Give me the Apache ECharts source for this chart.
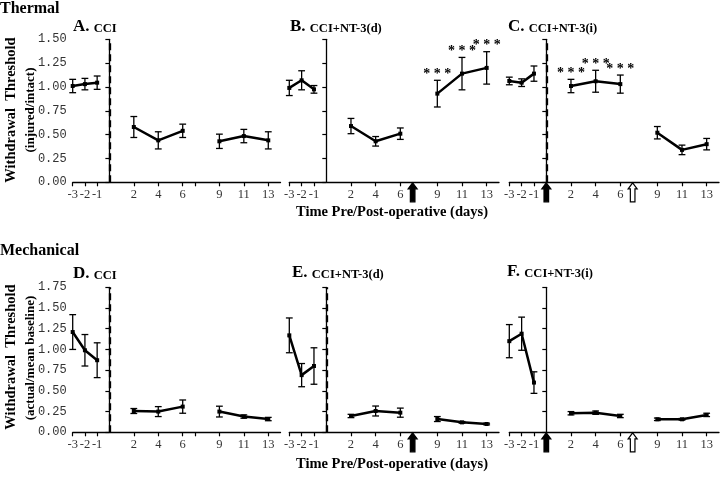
<!DOCTYPE html>
<html>
<head>
<meta charset="utf-8">
<script src="https://cdn.jsdelivr.net/npm/echarts@6/dist/echarts.min.js"></script>
<style>html,body{margin:0;padding:0;background:#fff}#c{width:720px;height:477px}</style>
</head>
<body>
<div id="c"></div>
<script>
// ---- data ----
const days = [-3, -2, -1, 2, 4, 6, 9, 11, 13];
const tickDays = [-3, -2, -1, 2, 4, 6, 7, 9, 11, 13];
const labelDays = [-3, -2, -1, 2, 4, 6, 9, 11, 13];
const segments = [[0, 1, 2], [3, 4, 5], [6, 7, 8]];

const thermA    = [1.01, 1.03, 1.045, 0.58, 0.44, 0.54, 0.43, 0.485, 0.44];
const thermAErr = [0.07, 0.06, 0.07, 0.11, 0.09, 0.07, 0.075, 0.07, 0.09];
const thermB    = [0.99, 1.07, 0.975, 0.59, 0.43, 0.51, 0.93, 1.14, 1.20];
const thermBErr = [0.08, 0.10, 0.04, 0.08, 0.05, 0.06, 0.14, 0.17, 0.17];
const thermC    = [1.063, 1.045, 1.14, 1.01, 1.06, 1.03, 0.52, 0.34, 0.40];
const thermCErr = [0.04, 0.04, 0.08, 0.07, 0.115, 0.095, 0.065, 0.05, 0.06];

const mechD    = [1.21, 0.99, 0.87, 0.257, 0.25, 0.31, 0.25, 0.19, 0.16];
const mechDErr = [0.21, 0.19, 0.21, 0.03, 0.06, 0.08, 0.065, 0.02, 0.02];
const mechE    = [1.17, 0.69, 0.80, 0.197, 0.257, 0.237, 0.16, 0.12, 0.10];
const mechEErr = [0.21, 0.14, 0.22, 0.02, 0.06, 0.055, 0.03, 0.01, 0.01];
const mechF    = [1.10, 1.19, 0.60, 0.23, 0.237, 0.197, 0.157, 0.157, 0.21];
const mechFErr = [0.20, 0.20, 0.13, 0.02, 0.02, 0.02, 0.015, 0.01, 0.02];

const starsB = [9, 11, 13];
const starsC = [2, 4, 6];
const arrowsB = [[7, 1]];
const arrowsC = [[0, 1], [7, 0]];
const arrowsE = [[7, 1]];
const arrowsF = [[0, 1], [7, 0]];

const titles = [
  ['A.', 'CCI'], ['B.', 'CCI+NT-3(d)'], ['C.', 'CCI+NT-3(i)'],
  ['D.', 'CCI'], ['E.', 'CCI+NT-3(d)'], ['F.', 'CCI+NT-3(i)']
];

// ---- layout ----
const serif = 'Liberation Serif';
const colLeft = [72.7, 289.3, 509.3];
const colWidth = [207.8, 209.7, 209.7];
const rowTop = [39.3, 287.3];
const rowHeight = [143, 145];

const panels = [
  {vals: thermA, err: thermAErr, ymax: 1.5, heavy: true,  stars: [], arrows: []},
  {vals: thermB, err: thermBErr, ymax: 1.5, heavy: false, stars: starsB, arrows: arrowsB},
  {vals: thermC, err: thermCErr, ymax: 1.5, heavy: true,  stars: starsC, arrows: arrowsC},
  {vals: mechD, err: mechDErr, ymax: 1.75, heavy: true,  stars: [], arrows: []},
  {vals: mechE, err: mechEErr, ymax: 1.75, heavy: true,  stars: [], arrows: arrowsE},
  {vals: mechF, err: mechFErr, ymax: 1.75, heavy: false, stars: [], arrows: arrowsF}
];

const grids = [], xAxes = [], yAxes = [], series = [];
panels.forEach((p, i) => {
  const col = i % 3, row = Math.floor(i / 3);
  grids.push({left: colLeft[col], top: rowTop[row], width: colWidth[col], height: rowHeight[row]});
  xAxes.push({
    type: 'value', gridIndex: i, min: -3, max: 14,
    splitLine: {show: false},
    axisLine: {onZero: false, lineStyle: {color: '#000', width: 1.3}},
    axisTick: {customValues: tickDays, length: 4, lineStyle: {color: '#000', width: 1.2}},
    axisLabel: {customValues: labelDays, showMinLabel: true, hideOverlap: false,
      color: '#333', fontFamily: serif, fontSize: 12.5, margin: 6}
  });
  yAxes.push({
    type: 'value', gridIndex: i, min: 0, max: p.ymax, interval: 0.25,
    splitLine: {show: false},
    axisLine: {show: true, lineStyle: {color: '#000', width: 1.3}},
    axisTick: {show: true, length: 4, lineStyle: {color: '#000', width: 1.2}},
    axisLabel: {show: col === 0, color: '#333', fontFamily: 'Liberation Mono', fontSize: 12, margin: 6,
      formatter: v => v.toFixed(2)}
  });
  segments.forEach((seg, si) => {
    const s = {
      type: 'line', xAxisIndex: i, yAxisIndex: i, silent: true, animation: false,
      data: seg.map(k => [days[k], p.vals[k]]),
      symbol: 'rect', symbolSize: 4,
      lineStyle: {color: '#000', width: 2.5}, itemStyle: {color: '#000'}
    };
    if (si === 0) {
      s.markLine = {
        silent: true, symbol: 'none', label: {show: false}, animation: false,
        lineStyle: p.heavy ? {color: '#000', width: 2.3, type: [7, 4]} : {color: '#000', width: 1, type: [5, 3]},
        data: [{xAxis: 0}]
      };
    }
    series.push(s);
  });
  // error bars
  series.push({
    type: 'custom', xAxisIndex: i, yAxisIndex: i, silent: true, animation: false, clip: false,
    data: days.map((d, k) => [d, p.vals[k] - p.err[k], p.vals[k] + p.err[k]]),
    encode: {x: 0, y: [1, 2]},
    renderItem: (params, api) => {
      const lo = api.coord([api.value(0), api.value(1)]);
      const hi = api.coord([api.value(0), api.value(2)]);
      const w = 3.4, st = {stroke: '#000', lineWidth: 1.3};
      return {type: 'group', children: [
        {type: 'line', shape: {x1: lo[0], y1: lo[1], x2: hi[0], y2: hi[1]}, style: st},
        {type: 'line', shape: {x1: lo[0] - w, y1: lo[1], x2: lo[0] + w, y2: lo[1]}, style: st},
        {type: 'line', shape: {x1: hi[0] - w, y1: hi[1], x2: hi[0] + w, y2: hi[1]}, style: st}
      ]};
    }
  });
  // significance stars
  if (p.stars.length) {
    series.push({
      type: 'custom', xAxisIndex: i, yAxisIndex: i, silent: true, animation: false, clip: false,
      data: p.stars.map(d => { const k = days.indexOf(d); return [d, p.vals[k] + p.err[k]]; }),
      encode: {x: 0, y: 1},
      renderItem: (params, api) => {
        const c = api.coord([api.value(0), api.value(1)]);
        return {type: 'text', style: {text: '* * *', x: c[0], y: c[1] + 1, align: 'center', verticalAlign: 'bottom',
          font: 'bold 14px ' + serif, fill: '#000'}};
      }
    });
  }
  // arrows
  if (p.arrows.length) {
    series.push({
      type: 'custom', xAxisIndex: i, yAxisIndex: i, silent: true, animation: false, clip: false, z: 10,
      data: p.arrows.map(a => [a[0], 0, a[1]]),
      encode: {x: 0, y: 1},
      renderItem: (params, api) => {
        const c = api.coord([api.value(0), 0]);
        const x = c[0], y = c[1] + 0.5;
        const filled = api.value(2) === 1;
        return {type: 'polygon', shape: {points: [
          [x, y], [x + 4.5, y + 6], [x + 2.3, y + 6], [x + 2.3, y + 19], [x - 2.3, y + 19], [x - 2.3, y + 6], [x - 4.5, y + 6]
        ]}, style: {fill: filled ? '#000' : '#fff', stroke: '#000', lineWidth: 1.2}};
      }
    });
  }
});

// ---- texts ----
const graphic = [];
const txt = (text, x, y, size, align) => ({
  type: 'text', x: x, y: y,
  style: {text: text, font: 'bold ' + size + 'px ' + serif, fill: '#000', align: align || 'left', verticalAlign: 'middle'}
});
graphic.push(txt('Thermal', 0, 9, 16));
graphic.push(txt('Mechanical', 0, 251, 16));
const titlePos = [[73, 27], [290, 27], [508, 27], [73, 274], [292, 273], [507, 272]];
titles.forEach((t, i) => {
  graphic.push({
    type: 'text', x: titlePos[i][0], y: titlePos[i][1],
    style: {
      text: '{a|' + t[0] + ' }{b|' + t[1] + '}',
      verticalAlign: 'middle', align: 'left',
      rich: {
        a: {font: 'bold 17px ' + serif, fill: '#000', verticalAlign: 'bottom'},
        b: {font: 'bold 12.5px ' + serif, fill: '#000', verticalAlign: 'bottom'}
      }
    }
  });
});
const rot = (text, x, y, size) => ({
  type: 'text', x: x, y: y, rotation: Math.PI / 2,
  style: {text: text, font: 'bold ' + size + 'px ' + serif, fill: '#000', align: 'center', verticalAlign: 'middle'}
});
graphic.push(rot('Withdrawal  Threshold', 11, 110, 14.5));
graphic.push(rot('(injured/intact)', 31, 110, 13));
graphic.push(rot('Withdrawal  Threshold', 11, 357, 14.5));
graphic.push(rot('(actual/mean baseline)', 31, 358, 13));
graphic.push(txt('Time Pre/Post-operative (days)', 392, 212, 14.5, 'center'));
graphic.push(txt('Time Pre/Post-operative (days)', 392, 464, 14.5, 'center'));

const chart = echarts.init(document.getElementById('c'));
chart.setOption({
  animation: false,
  backgroundColor: '#fff',
  grid: grids, xAxis: xAxes, yAxis: yAxes, series: series, graphic: graphic
});
</script>
</body>
</html>
